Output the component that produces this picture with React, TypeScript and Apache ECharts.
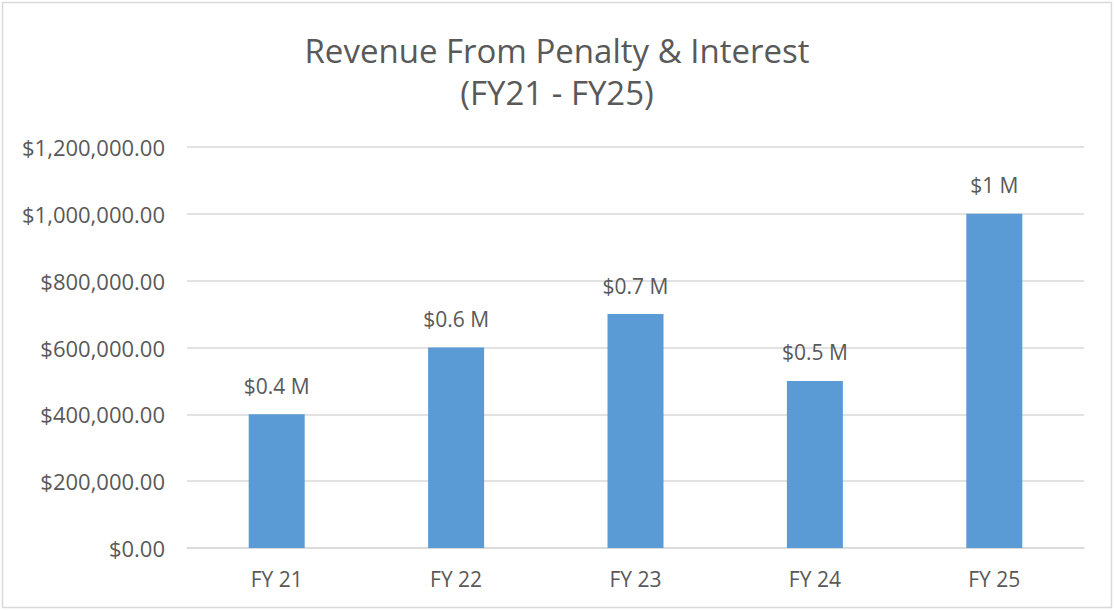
import React, { useEffect, useRef } from "react";
import * as echarts from "echarts";

const categories = ["FY 21", "FY 22", "FY 23", "FY 24", "FY 25"];
const revenue = [400000, 600000, 700000, 500000, 1000000];
const titleLines = ["Revenue From Penalty & Interest", "(FY21 - FY25)"];

const FONT = "'Open Sans', Lato, sans-serif";

export default function App() {
  const ref = useRef<HTMLDivElement>(null);
  useEffect(() => {
    if (!ref.current) return;
    const chart = echarts.init(ref.current, undefined, { renderer: "svg" });
    chart.setOption({
      animation: false,
      backgroundColor: "#ffffff",
      title: {
        text: titleLines.join("\n"),
        left: "center",
        top: 24,
        textStyle: {
          fontFamily: FONT,
          fontSize: 33,
          fontWeight: "normal",
          color: "#595959",
          lineHeight: 42,
        },
      },
      graphic: [
        {
          type: "rect",
          shape: { x: 2.5, y: 2.5, width: 1109, height: 605 },
          style: { fill: "none", stroke: "#d9d9d9", lineWidth: 1.5 },
          silent: true,
        },
      ],
      grid: { left: 187, right: 30, top: 147, bottom: 62 },
      xAxis: {
        type: "category",
        data: categories,
        axisLine: { show: true, lineStyle: { color: "#d9d9d9", width: 1.5 } },
        axisTick: { show: false },
        axisLabel: {
          fontFamily: FONT,
          fontSize: 21,
          color: "#595959",
          margin: 20,
        },
      },
      yAxis: {
        type: "value",
        min: 0,
        max: 1200000,
        interval: 200000,
        axisLine: { show: false },
        axisTick: { show: false },
        splitLine: { lineStyle: { color: "#d9d9d9", width: 1.5 } },
        axisLabel: {
          fontFamily: FONT,
          fontSize: 22,
          color: "#595959",
          margin: 22,
          formatter: (v: number) =>
            "$" + v.toLocaleString("en-US", { minimumFractionDigits: 2, maximumFractionDigits: 2 }),
        },
      },
      series: [
        {
          type: "bar",
          data: revenue,
          barWidth: 56,
          itemStyle: { color: "#5b9bd5" },
          label: {
            show: true,
            position: "top",
            distance: 18,
            fontFamily: FONT,
            fontSize: 21,
            color: "#595959",
            formatter: (p: any) => "$" + p.value / 1000000 + " M",
          },
        },
      ],
    });
    return () => chart.dispose();
  }, []);
  return (
    <div style={{ position: "fixed", left: 0, top: 0, width: 1114, height: 610 }}>
      <div ref={ref} style={{ width: 1114, height: 610 }} />
    </div>
  );
}
